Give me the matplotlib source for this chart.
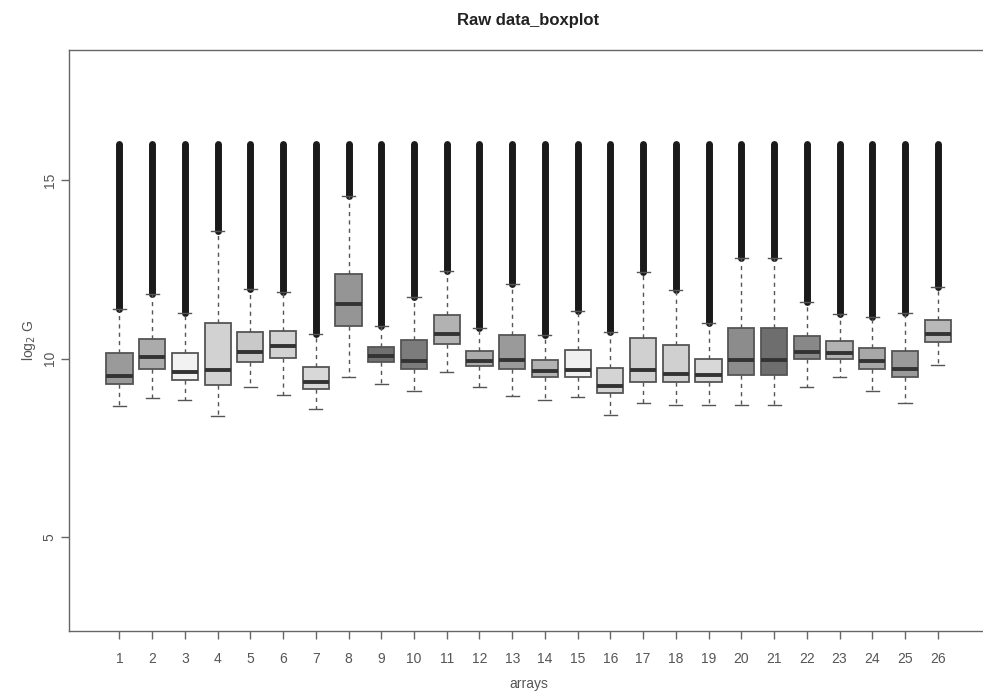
import matplotlib.pyplot as plt

plt.rcParams['font.family'] = ['Liberation Sans', 'DejaVu Sans']

# 每个芯片的箱线图统计量（log2 强度）
arrays = list(range(1, 27))
q1 = [9.29, 9.70, 9.41, 9.25, 9.89, 10.02, 9.15, 10.91, 9.89, 9.71, 10.40, 9.78, 9.71,
      9.49, 9.49, 9.03, 9.35, 9.33, 9.33, 9.53, 9.53, 9.98, 9.98, 9.71, 9.49, 10.47]
med = [9.50, 10.03, 9.62, 9.69, 10.17, 10.34, 9.34, 11.54, 10.06, 9.92, 10.69, 9.94, 9.96,
       9.64, 9.68, 9.22, 9.69, 9.57, 9.53, 9.96, 9.96, 10.19, 10.15, 9.94, 9.72, 10.69]
q3 = [10.15, 10.55, 10.15, 10.99, 10.73, 10.76, 9.76, 12.38, 10.31, 10.51, 11.23, 10.22, 10.66,
      9.95, 10.23, 9.73, 10.58, 10.37, 10.00, 10.85, 10.85, 10.62, 10.49, 10.29, 10.20, 11.07]
whis_lo = [8.66, 8.90, 8.85, 8.39, 9.19, 8.98, 8.59, 9.48, 9.30, 9.10, 9.63, 9.19, 8.96,
           8.85, 8.91, 8.41, 8.76, 8.70, 8.70, 8.70, 8.70, 9.19, 9.47, 9.10, 8.75, 9.81]
whis_hi = [11.40, 11.81, 11.28, 13.57, 11.96, 11.87, 10.68, 14.56, 10.92, 11.73, 12.45, 10.85, 12.08,
           10.66, 11.34, 10.74, 12.42, 11.92, 11.00, 12.82, 12.82, 11.57, 11.25, 11.17, 11.28, 12.00]
# 离群点上限
flier_max = [16.0] * 26
box_colors = ['#9a9a9a', '#ababab', '#f2f2f2', '#d2d2d2', '#c9c9c9', '#d2d2d2', '#d8d8d8',
              '#959595', '#707070', '#7c7c7c', '#b2b2b2', '#ababab', '#9a9a9a', '#b2b2b2',
              '#f0f0f0', '#d4d4d4', '#d0d0d0', '#d0d0d0', '#d8d8d8', '#8c8c8c', '#6e6e6e',
              '#888888', '#b2b2b2', '#a8a8a8', '#9a9a9a', '#b8b8b8']

stats = []
for i in range(len(arrays)):
    stats.append({'q1': q1[i], 'med': med[i], 'q3': q3[i],
                  'whislo': whis_lo[i], 'whishi': whis_hi[i], 'fliers': []})

fig = plt.figure(figsize=(9.83, 6.91), dpi=100)
ax = fig.add_axes((0.0702, 0.0868, 0.935, 0.8408))

# 离群点密集，画成粗竖条
ax.vlines(arrays, whis_hi, flier_max, color='#1a1a1a', lw=5, capstyle='round', zorder=1)

bp = ax.bxp(stats, positions=arrays, widths=0.8, patch_artist=True, showfliers=False,
            capwidths=0.4,
            boxprops=dict(edgecolor='#555555', linewidth=1.3),
            medianprops=dict(color='#333333', linewidth=2.8),
            whiskerprops=dict(color='#555555', linewidth=1.0, linestyle=(0, (3, 3))),
            capprops=dict(color='#555555', linewidth=1.0))
for patch, c in zip(bp['boxes'], box_colors):
    patch.set_facecolor(c)
for line in bp['caps'] + bp['whiskers']:
    line.set_zorder(2)

ax.set_xlim(-0.54, 27.54)
ax.set_ylim(2.37, 18.64)
ax.set_xticks(arrays)
ax.set_xticklabels([str(a) for a in arrays])
ax.set_yticks([5, 10, 15])
ax.set_yticklabels(['5', '10', '15'], rotation=90, va='center')

for s in ax.spines.values():
    s.set_color('#666666')
    s.set_linewidth(1.0)
ax.tick_params(colors='#666666', labelcolor='#555555', labelsize=10, length=6, width=1.0)
ax.tick_params(axis='x', pad=9)
ax.tick_params(axis='y', pad=3)

ax.set_title('Raw data_boxplot', fontsize=12, fontweight='bold', pad=18, color='#222222')
ax.set_xlabel('arrays', fontsize=10, color='#555555', labelpad=8)
ax.set_ylabel('log$_2$ G', fontsize=10, color='#555555', labelpad=3)

fig.savefig('out.png', dpi=100)
